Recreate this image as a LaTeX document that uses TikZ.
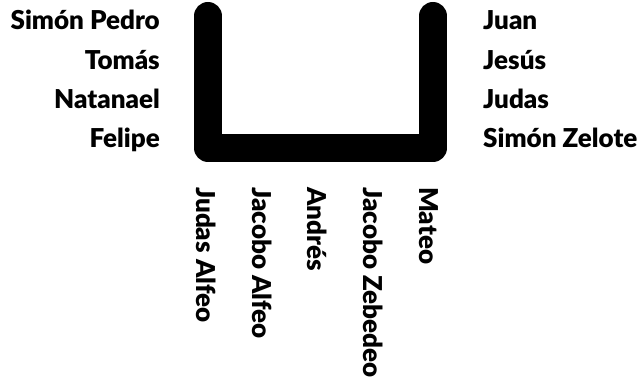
\documentclass[tikz,border=0pt]{standalone}
\usepackage{fontspec}
\setmainfont{Lato}[BoldFont={Lato Black}]
\usepackage{tikz}
\usetikzlibrary{positioning}

\begin{document}
\begin{tikzpicture}[
  x=1pt, y=-1pt,
  person/.style={font=\fontsize{26}{30}\selectfont\bfseries, inner sep=0pt},
  leftperson/.style={person, anchor=base east},
  rightperson/.style={person, anchor=base west},
  downperson/.style={person, anchor=base west, rotate=-90},
  table/.style={line width=28pt, line cap=round, line join=round}
]
\useasboundingbox (0,0) rectangle (643,385);

% the table
\coordinate (tl) at (208,16);
\coordinate (bl) at (208,148);
\coordinate (br) at (433,148);
\coordinate (tr) at (433,16);
\draw[table] (tl) -- (bl) -- (br) -- (tr);

% left side
\node[leftperson] (pedro)    at (160,30)  {Simón Pedro};
\node[leftperson] (tomas)    at (160,70)  {Tomás};
\node[leftperson] (natanael) at (160,109) {Natanael};
\node[leftperson] (felipe)   at (160,148) {Felipe};

% right side
\node[rightperson] (juan)   at (483,30)  {Juan};
\node[rightperson] (jesus)  at (483,70)  {Jesús};
\node[rightperson] (judas)  at (483,109) {Judas};
\node[rightperson] (zelote) at (483,148) {Simón Zelote};

% bottom
\node[downperson] (jalfeo)   at (196,187) {Judas Alfeo};
\node[downperson] (jacalfeo) at (252,187) {Jacobo Alfeo};
\node[downperson] (andres)   at (307,187) {Andrés};
\node[downperson] (zebedeo)  at (363,187) {Jacobo Zebedeo};
\node[downperson] (mateo)    at (419,187) {Mateo};
\end{tikzpicture}
\end{document}
